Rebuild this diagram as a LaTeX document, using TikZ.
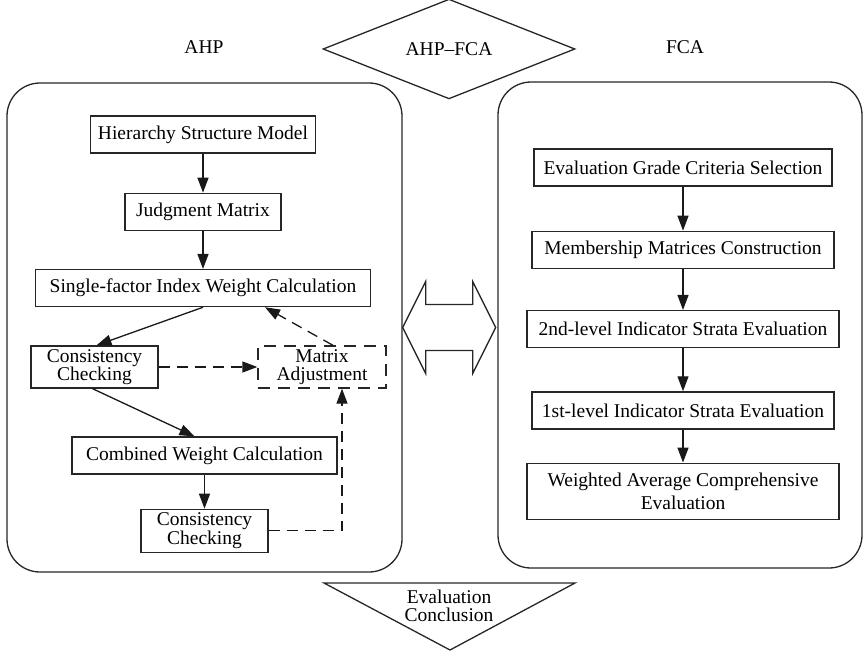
\documentclass[tikz,border=0pt]{standalone}
\usepackage{fontspec}
\setmainfont{Liberation Serif}
\usetikzlibrary{positioning,arrows.meta,shapes.geometric}

\begin{document}
\begin{tikzpicture}[x=1pt,y=-1pt,
  stage/.style={draw=black!85,line width=1.3pt,inner sep=0pt,
    minimum height=37pt,align=center,font=\fontsize{19.5}{18.5}\selectfont},
  adjust/.style={stage,dash pattern=on 12pt off 8pt},
  panel/.style={draw=black!85,line width=1.3pt,rounded corners=33pt,inner sep=0pt},
  tag/.style={font=\fontsize{19.5}{18.5}\selectfont},
  link/.style={-{Triangle[length=15pt,width=11pt]},draw=black!90,line width=1.3pt},
  retry/.style={link,dash pattern=on 11pt off 7pt}]
\useasboundingbox (0,0) rectangle (865,651);
% the two method panels
\node[panel,minimum width=395pt,minimum height=489pt] (ahp) at (204.5,327.5) {};
\node[panel,minimum width=364pt,minimum height=486pt] (fca) at (680,325) {};
\node[tag] (ahptag) at (204,47) {AHP};
\node[tag] (fcatag) at (685,47) {FCA};
\node[tag,draw=black!85,line width=1.3pt,shape=diamond,inner sep=0pt,
  minimum width=252pt,minimum height=86pt] (mix) at (449,49) {AHP--FCA};
% AHP side
\node[stage,minimum width=225pt] (model) at (203,134.5) {Hierarchy Structure Model};
\node[stage,minimum width=156pt,below=39pt of model] (judge) {Judgment Matrix};
\node[stage,minimum width=335pt,below=38pt of judge] (single) {Single-factor Index Weight Calculation};
\node[stage,minimum width=127pt,minimum height=42pt] (check1) at (94.5,367) {Consistency\\Checking};
\node[adjust,minimum width=128pt,minimum height=42pt] (adjust) at (322,367) {Matrix\\Adjustment};
\node[stage,minimum width=265pt] (combined) at (204.5,455.5) {Combined Weight Calculation};
\node[stage,minimum width=127pt,minimum height=43pt,below=34pt of combined] (check2) {Consistency\\Checking};
\draw[link] (model) -- (judge);
\draw[link] (judge) -- (single);
\draw[link] (single.south) -- ([xshift=2pt]check1.north);
\draw[retry] (check1) -- (adjust);
\draw[retry] ([xshift=11pt]adjust.north) -- ([xshift=62pt]single.south);
\draw[link] ([xshift=-2pt]check1.south) -- ([xshift=-10pt]combined.north);
\draw[link] (combined) -- (check2);
\draw[retry] (check2.east) -| ([xshift=20pt]adjust.south);
% FCA side
\node[stage,minimum width=298pt] (grade) at (683,167.5) {Evaluation Grade Criteria Selection};
\node[stage,minimum width=302pt,below=44pt of grade] (member) {Membership Matrices Construction};
\node[stage,minimum width=312pt,below=41pt of member] (second) {2nd-level Indicator Strata Evaluation};
\node[stage,minimum width=302pt,below=43pt of second] (first) {1st-level Indicator Strata Evaluation};
\node[stage,minimum width=312pt,minimum height=56pt,below=33pt of first] (overall)
  {Weighted Average Comprehensive\\[4pt]Evaluation};
\draw[link] (grade) -- (member);
\draw[link] (member) -- (second);
\draw[link] (second) -- (first);
\draw[link] (first) -- (overall);
% exchange between the panels
\draw[draw=black!85,line width=1.3pt,line join=miter] (ahp.east) -- ++(23,-46) -- ++(0,23)
  -- ++(47,0) -- ++(0,-23) -- ++(23,46) -- ++(-23,46) -- ++(0,-23) -- ++(-47,0)
  -- ++(0,23) -- cycle;
% conclusion
\coordinate (cl) at (324,583);
\coordinate (cr) at (575,583);
\coordinate (ct) at (450,650);
\draw[draw=black!85,line width=1.3pt] (cl) -- (cr) -- (ct) -- cycle;
\node[tag,align=center,font=\fontsize{19.5}{18.5}\selectfont] (result) at (449,606) {Evaluation\\Conclusion};
\end{tikzpicture}
\end{document}
